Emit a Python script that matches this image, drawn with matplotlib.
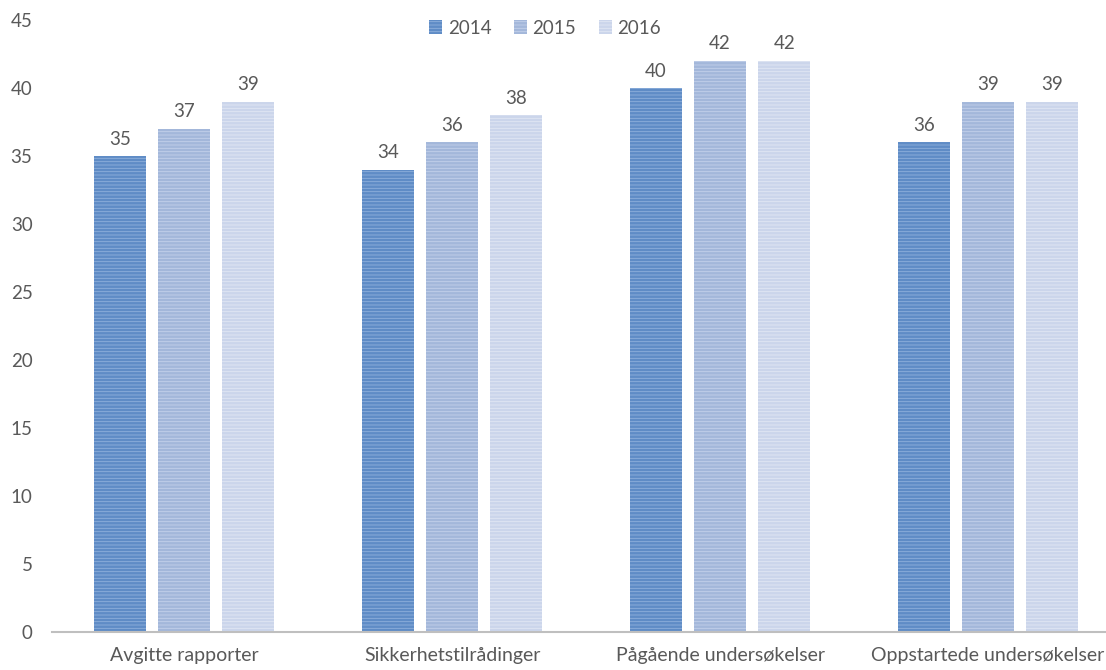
import numpy as np
import matplotlib
matplotlib.use("Agg")
import matplotlib.pyplot as plt

# data
categories = ["Avgitte rapporter", "Sikkerhetstilrådinger", "Pågående undersøkelser", "Oppstartede undersøkelser"]
years = ["2014", "2015", "2016"]
v2014 = [35, 34, 40, 36]
v2015 = [37, 36, 42, 39]
v2016 = [39, 38, 42, 39]

face_colors = ["#5f8cc6", "#a3b7da", "#cbd5eb"]
stripe_colors = ["#8fb0dc", "#c3d1ea", "#e1e7f4"]

plt.rcParams["font.family"] = ["Lato", "DejaVu Sans"]
plt.rcParams["hatch.linewidth"] = 0.6
TXT = "#595959"

fig = plt.figure(figsize=(11.06, 6.70), dpi=100)
ax = fig.add_axes([52 / 1106, 38 / 670, 1054 / 1106, 612 / 670])

x = np.arange(len(categories))
width = 0.194
step = 0.239
series = [v2014, v2015, v2016]
for i, vals in enumerate(series):
    pos = x + (i - 1) * step
    bars = ax.bar(pos, vals, width, color=face_colors[i], edgecolor=stripe_colors[i],
                  hatch="-----", linewidth=0, label=years[i])
    for b, v in zip(bars, vals):
        ax.annotate(str(v), (b.get_x() + b.get_width() / 2, v), xytext=(0, 6),
                    textcoords="offset points", ha="center", va="bottom",
                    fontsize=13.5, color=TXT)

ax.set_xlim(-0.493, 3.44)
ax.set_ylim(0, 45)
ax.set_yticks(range(0, 46, 5))
ax.set_xticks(x)
ax.set_xticklabels(categories, fontsize=14)
ax.tick_params(axis="both", length=0, colors=TXT)
ax.tick_params(axis="y", labelsize=13.5, pad=14)
ax.tick_params(axis="x", pad=11)
for s in ["top", "right", "left"]:
    ax.spines[s].set_visible(False)
ax.spines["bottom"].set_color("#bfbfbf")
ax.spines["bottom"].set_linewidth(1.5)

fig.legend(loc="center", bbox_to_anchor=(545 / 1106, 1 - 28 / 670), ncol=3, frameon=False,
           fontsize=13.5, labelcolor=TXT, handlelength=0.7, handleheight=0.7,
           handletextpad=0.3, columnspacing=1.2)

fig.savefig("out.png", dpi=100)
